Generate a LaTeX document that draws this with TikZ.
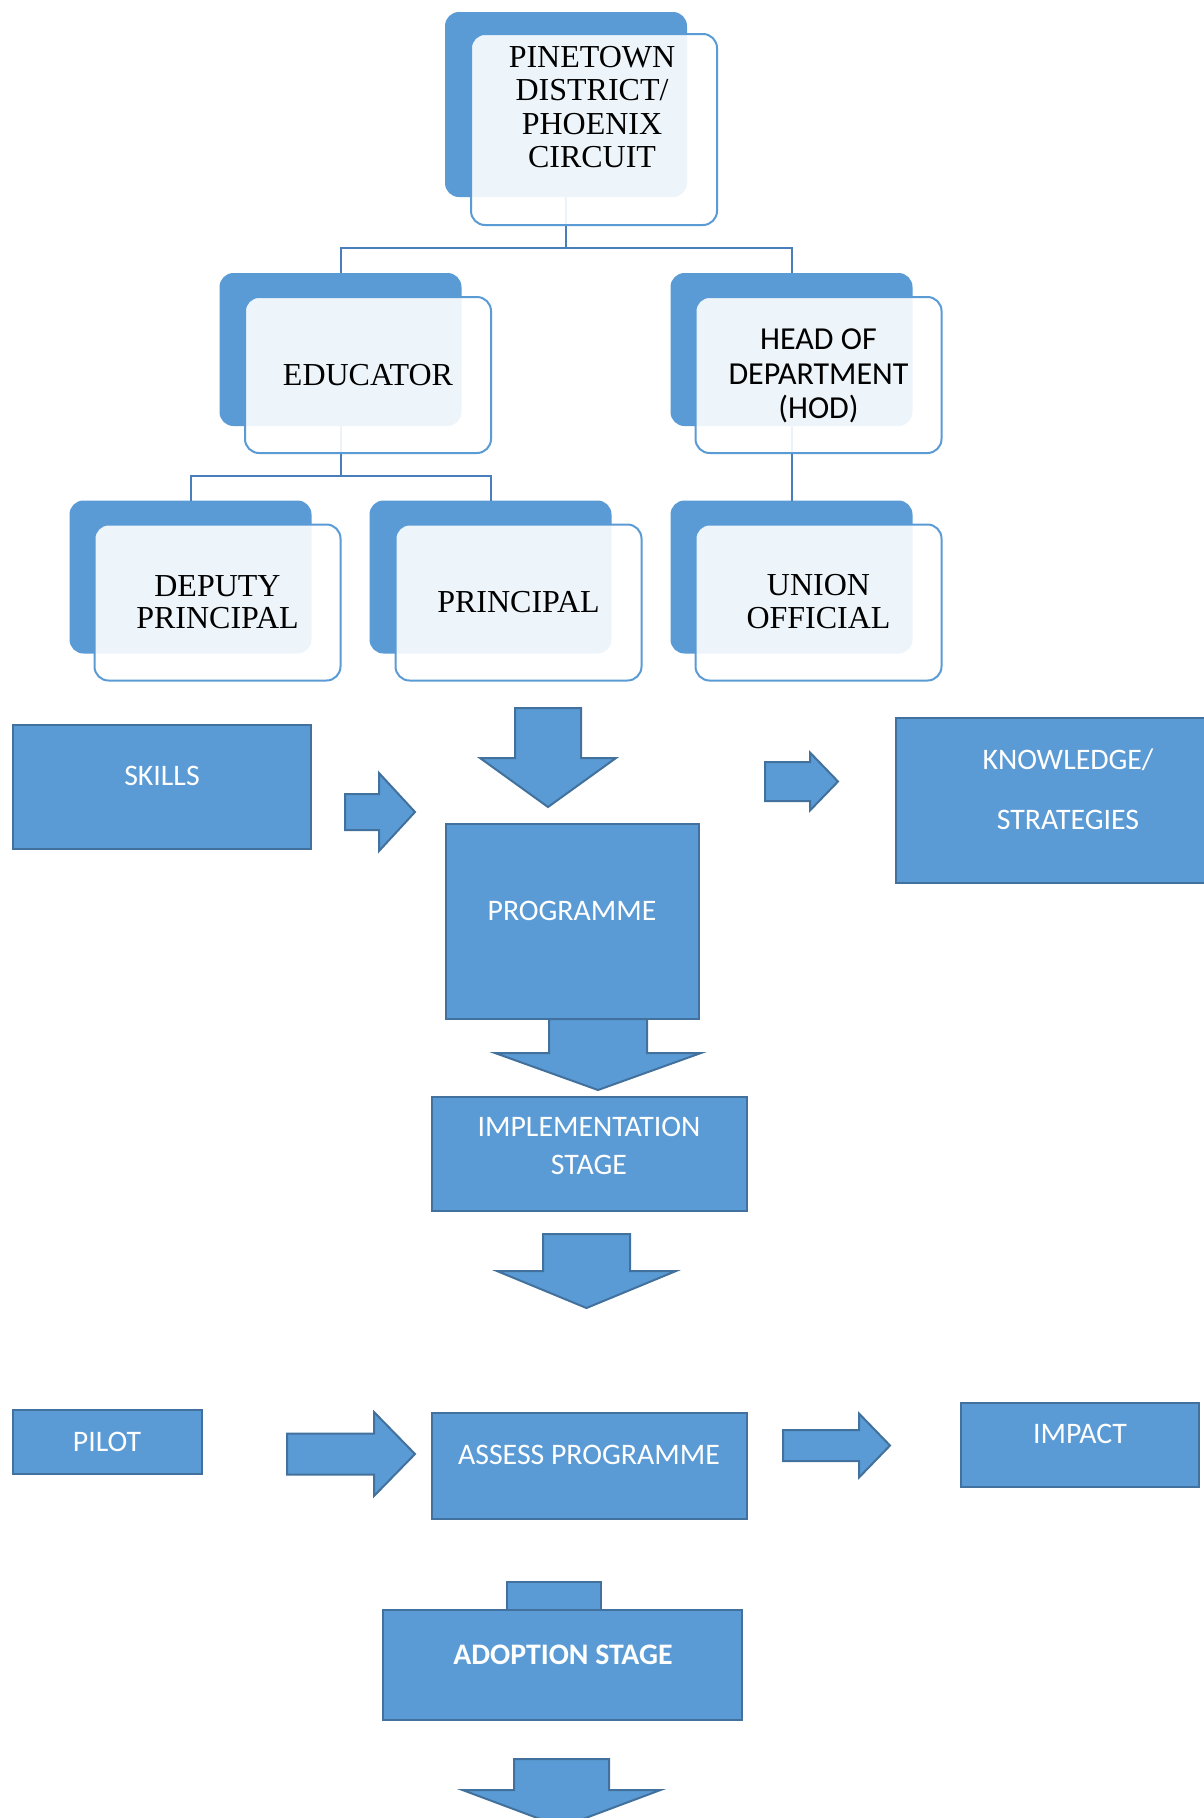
\documentclass[tikz,border=0pt]{standalone}
\usepackage{fontspec}
\newfontfamily\serifface{Liberation Serif}
\newfontfamily\sansface{Carlito}
\definecolor{accent}{HTML}{5B9BD5}
\definecolor{accentdark}{HTML}{41719C}
\definecolor{linkblue}{HTML}{4A7EBB}

\tikzset{
  backcard/.style={rectangle, rounded corners=14pt, fill=accent, inner sep=0pt, outer sep=0pt,
    minimum width=242pt, minimum height=153pt},
  frontcard/.style={rectangle, rounded corners=14pt, fill=white, fill opacity=0.9,
    draw=accent, draw opacity=1, line width=2pt, inner sep=0pt, outer sep=0pt,
    minimum width=246pt, minimum height=156pt},
  link/.style={draw=linkblue, line width=2pt},
  seriflabel/.style={inner sep=0pt, align=center, text=black, font=\serifface\fontsize{32}{33}\selectfont},
  sanslabel/.style={inner sep=0pt, align=center, text=black, font=\sansface\fontsize{32}{34.5}\selectfont},
  flowbox/.style={rectangle, fill=accent, draw=accentdark, line width=2pt, inner sep=0pt, outer sep=0pt},
  flowtext/.style={inner sep=0pt, align=center, text=white, font=\sansface\fontsize{29.8}{38}\selectfont},
  blockarrow/.style={fill=accent, draw=accentdark, line width=2pt, line join=miter},
}

% down block arrow: x centre, shaft top, shaft half width, head top, head half width, tip
\newcommand\blockdown[6]{%
  \draw[blockarrow] ({#1-#3},#2) -- ({#1+#3},#2) -- ({#1+#3},#4) -- ({#1+#5},#4)
    -- (#1,#6) -- ({#1-#5},#4) -- ({#1-#3},#4) -- cycle;}
% right block arrow: y centre, shaft start, shaft half height, head x, head half height, tip
\newcommand\blockright[6]{%
  \draw[blockarrow] (#2,{#1-#3}) -- (#4,{#1-#3}) -- (#4,{#1-#5}) -- (#6,#1)
    -- (#4,{#1+#5}) -- (#4,{#1+#3}) -- (#2,{#1+#3}) -- cycle;}

\begin{document}
\begin{tikzpicture}[x=1pt, y=-1pt]
\useasboundingbox (0,0) rectangle (1204,1818);
\fill[white] (0,0) rectangle (1204,1818);
\clip (0,0) rectangle (1204,1818);

% ---- hierarchy: back cards ----
\node[backcard, minimum height=185pt] (pineB) at (566,104.5) {};
\node[backcard] (eduB) at (340.5,349.5) {};
\node[backcard] (hodB) at (791.5,349.5) {};
\node[backcard] (depB) at (190.5,577) {};
\node[backcard] (priB) at (490.5,577) {};
\node[backcard] (uniB) at (791.5,577) {};

% ---- hierarchy connectors ----
\coordinate (barTop) at (566,248);
\coordinate (barEdu) at (340.5,476);
\draw[link] (pineB.south) -- (barTop);
\draw[link] (eduB.north) |- (barTop) -| (hodB.north);
\draw[link] (eduB.south) -- (barEdu);
\draw[link] (depB.north) |- (barEdu) -| (priB.north);
\draw[link] (hodB.south) -- (uniB.north);

% ---- hierarchy: front cards ----
\node[frontcard, minimum height=191pt] (pineF) at (594,129.5) {};
\node[frontcard] (eduF) at (368,375) {};
\node[frontcard] (hodF) at (818.5,375) {};
\node[frontcard] (depF) at (217.5,602.5) {};
\node[frontcard] (priF) at (518.5,602.5) {};
\node[frontcard] (uniF) at (818.5,602.5) {};

\node[seriflabel, font=\serifface\fontsize{32}{33.3}\selectfont] (pineT) at (592,107) {PINETOWN\\DISTRICT/\\PHOENIX\\CIRCUIT};
\node[seriflabel] (eduT) at (368,375) {EDUCATOR};
\node[sanslabel] (hodT) at (818.5,376) {HEAD OF\\DEPARTMENT\\(HOD)};
\node[seriflabel, font=\serifface\fontsize{32}{32.5}\selectfont] (depT) at (217.5,602) {DEPUTY\\PRINCIPAL};
\node[seriflabel] (priT) at (518.5,602) {PRINCIPAL};
\node[seriflabel] (uniT) at (818.5,602) {UNION\\OFFICIAL};

% ---- process flow ----
\node[flowbox, minimum width=298pt, minimum height=124pt] (skills) at (162,787) {};
\node[flowbox, minimum width=253pt, minimum height=195pt] (prog) at (572.5,921.5) {};
\node[flowbox, minimum width=346pt, minimum height=165pt] (know) at (1069,800.5) {};
\node[flowbox, minimum width=315pt, minimum height=114pt] (impl) at (589.5,1154) {};
\node[flowbox, minimum width=189pt, minimum height=64pt] (pilot) at (107.5,1442) {};
\node[flowbox, minimum width=315pt, minimum height=106pt] (assess) at (589.5,1466) {};
\node[flowbox, minimum width=238pt, minimum height=84pt] (impact) at (1080,1445) {};
\node[flowbox, minimum width=94pt, minimum height=29pt] (adoptTab) at (554,1596.5) {};
\node[flowbox, minimum width=359pt, minimum height=110pt] (adopt) at (562.5,1665) {};

\blockdown{548}{708}{33}{758}{68}{807}
\blockdown{598}{1019}{49}{1053}{103}{1090}
\blockdown{586.5}{1234}{43.5}{1271}{89.5}{1308}
\blockdown{561.5}{1759}{47.5}{1790}{99}{1827}

\blockright{812}{345}{18}{379}{39}{415}
\blockright{781.5}{765}{19.5}{810}{29}{838}
\blockright{1454}{287}{20.5}{374}{42}{415}
\blockright{1445.5}{783}{15.5}{859}{32}{890}

\node[flowtext] (skillsT) at (162,776) {SKILLS};
\node[flowtext] (progT) at (572,911) {PROGRAMME};
\node[flowtext, font=\sansface\fontsize{29.8}{60}\selectfont] (knowT) at (1068,789) {KNOWLEDGE/\\STRATEGIES};
\node[flowtext] (implT) at (589,1146) {IMPLEMENTATION\\STAGE};
\node[flowtext] (pilotT) at (107,1442) {PILOT};
\node[flowtext] (assessT) at (589,1455) {ASSESS PROGRAMME};
\node[flowtext] (impactT) at (1080,1434) {IMPACT};
\node[flowtext, font=\sansface\bfseries\fontsize{29.8}{38}\selectfont] (adoptT) at (563,1655) {ADOPTION STAGE};
\end{tikzpicture}
\end{document}
